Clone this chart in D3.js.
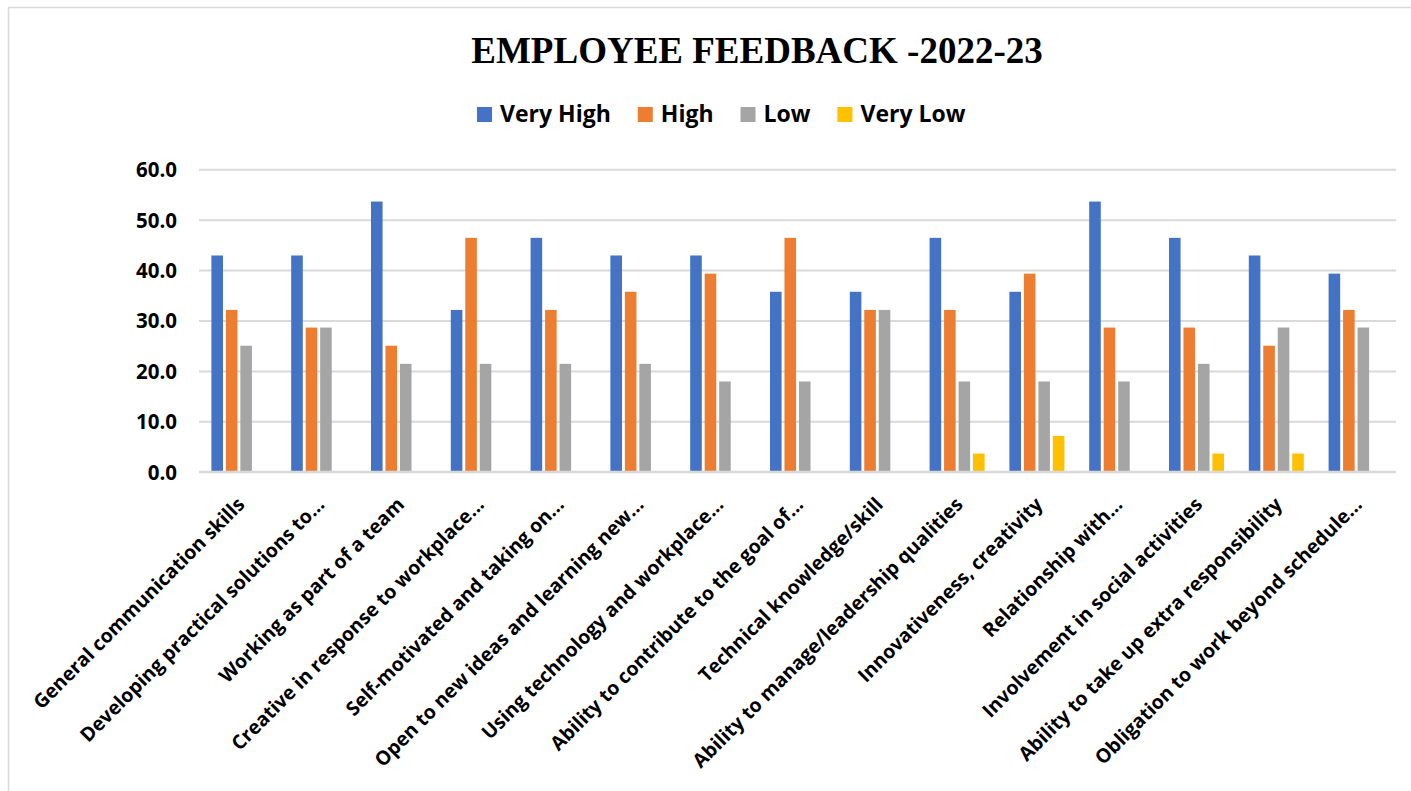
<!DOCTYPE html>
<html>
<head>
<meta charset="utf-8">
<script src="https://cdn.jsdelivr.net/npm/d3@7"></script>
<style>
  html, body { margin: 0; padding: 0; background: #ffffff; }
  svg { display: block; }
</style>
</head>
<body>
<svg id="chart" width="1411" height="791"></svg>
<script>
const categories = [
  "General communication skills",
  "Developing practical solutions to...",
  "Working as part of a team",
  "Creative in response to workplace...",
  "Self-motivated and taking on...",
  "Open to new ideas and learning new...",
  "Using technology and workplace...",
  "Ability to contribute to the goal of...",
  "Technical knowledge/skill",
  "Ability to manage/leadership qualities",
  "Innovativeness, creativity",
  "Relationship with...",
  "Involvement in social activities",
  "Ability to take up extra responsibility",
  "Obligation to work beyond schedule..."
];
const seriesNames = ["Very High", "High", "Low", "Very Low"];
const veryHigh = [42.9, 42.9, 53.6, 32.1, 46.4, 42.9, 42.9, 35.7, 35.7, 46.4, 35.7, 53.6, 46.4, 42.9, 39.3];
const high     = [32.1, 28.6, 25.0, 46.4, 32.1, 35.7, 39.3, 46.4, 32.1, 32.1, 39.3, 28.6, 28.6, 25.0, 32.1];
const low      = [25.0, 28.6, 21.4, 21.4, 21.4, 21.4, 17.9, 17.9, 32.1, 17.9, 17.9, 17.9, 21.4, 28.6, 28.6];
const veryLow  = [0, 0, 0, 0, 0, 0, 0, 0, 0, 3.6, 7.1, 0, 3.6, 3.6, 0];
const yTicks = [0, 10, 20, 30, 40, 50, 60];
const titleText = "EMPLOYEE FEEDBACK -2022-23";

const seriesValues = [veryHigh, high, low, veryLow];
const colors = ["#4472C4", "#ED7D31", "#A5A5A5", "#FFC000"];

const svg = d3.select("#chart");
const uiFont = "'Open Sans', Lato, 'DejaVu Sans', sans-serif";

// chart border
svg.append("rect")
  .attr("x", 8.5).attr("y", 7.5)
  .attr("width", 1430).attr("height", 820)
  .attr("fill", "#fff").attr("stroke", "#d9d9d9").attr("stroke-width", 1.5);

const plotLeft = 199, plotRight = 1396, plotTop = 169.3, plotBottom = 471.7;

const x0 = d3.scaleBand().domain(categories).range([plotLeft, plotRight]).padding(0);
const groupWidth = 55;
const x1 = d3.scaleBand().domain(seriesNames).range([0, groupWidth]).paddingInner(0.2).paddingOuter(0);
const groupOffset = (x0.bandwidth() - groupWidth) / 2;
const y = d3.scaleLinear().domain([0, 60]).range([plotBottom, plotTop]);

// gridlines
const yAxis = d3.axisLeft(y).tickValues(yTicks).tickSize(-(plotRight - plotLeft)).tickFormat(d3.format(".1f"));
const gy = svg.append("g").attr("transform", `translate(${plotLeft},0)`).call(yAxis);
gy.select(".domain").remove();
gy.selectAll(".tick line").attr("stroke", "#d9d9d9").attr("stroke-width", 2);
gy.selectAll(".tick text")
  .attr("x", -22)
  .attr("dy", "0.36em")
  .attr("fill", "#000")
  .style("font-family", uiFont)
  .style("font-size", "20.5px")
  .style("font-weight", "bold");

// bars
const data = categories.map((c, i) => ({ c, vals: seriesNames.map((s, j) => ({ s, v: seriesValues[j][i], color: colors[j] })) }));
const groups = svg.append("g").selectAll("g").data(data).join("g")
  .attr("transform", d => `translate(${x0(d.c) + groupOffset},0)`);
groups.selectAll("rect").data(d => d.vals).join("rect")
  .attr("x", d => x1(d.s))
  .attr("width", x1.bandwidth())
  .attr("y", d => y(d.v))
  .attr("height", d => y(0) - y(d.v))
  .attr("fill", d => d.color);

// x axis baseline
svg.append("line")
  .attr("x1", plotLeft).attr("x2", plotRight)
  .attr("y1", y(0)).attr("y2", y(0))
  .attr("stroke", "#d9d9d9").attr("stroke-width", 2);

// category labels
const xAxis = d3.axisBottom(x0).tickSize(0).tickPadding(0);
const gx = svg.append("g").attr("transform", `translate(0,${plotBottom})`).call(xAxis);
gx.select(".domain").remove();
gx.selectAll(".tick text")
  .attr("text-anchor", "end")
  .attr("transform", "translate(7,34) rotate(-45)")
  .attr("y", 0).attr("dy", 0)
  .attr("fill", "#000")
  .style("font-family", uiFont)
  .style("font-size", "19.5px")
  .style("font-weight", "bold");

// title
svg.append("text")
  .attr("x", 757).attr("y", 63)
  .attr("text-anchor", "middle")
  .style("font-family", "'Liberation Serif', 'Times New Roman', serif")
  .style("font-size", "37px")
  .style("font-weight", "bold")
  .attr("fill", "#000")
  .text(titleText);

// legend
const legend = svg.append("g");
let lx = 477;
seriesNames.forEach((s, j) => {
  const item = legend.append("g").attr("transform", `translate(${lx},0)`);
  item.append("rect").attr("x", 0).attr("y", 107).attr("width", 15).attr("height", 15).attr("fill", colors[j]);
  const t = item.append("text").attr("x", 23).attr("y", 122)
    .style("font-family", uiFont).style("font-size", "23px").style("font-weight", "bold")
    .attr("fill", "#000").text(s);
  const w = t.node().getComputedTextLength();
  lx += 23 + w + 27;
});
</script>
</body>
</html>
